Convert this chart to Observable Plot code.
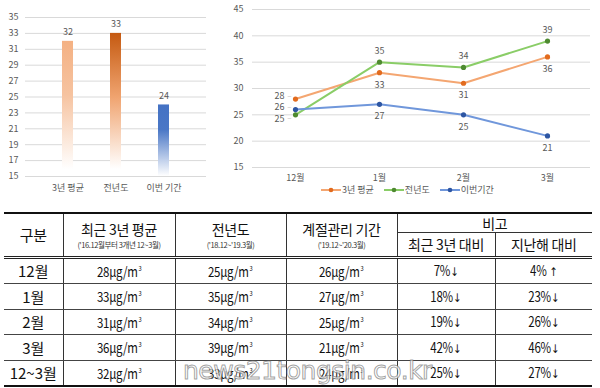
<!DOCTYPE html>
<html><head><meta charset="utf-8">
<script src="https://cdn.jsdelivr.net/npm/d3@7"></script>
<script src="https://cdn.jsdelivr.net/npm/@observablehq/plot@0.6"></script>
<style>
body{margin:0;background:#fff;font-family:"Noto Sans CJK KR","Noto Sans",sans-serif;}
#root{position:relative;width:600px;height:388px;overflow:hidden;background:#fff;}
#bar{position:absolute;left:0;top:0;}
#line{position:absolute;left:220px;top:0;}
#legend{position:absolute;left:321px;top:185px;display:flex;align-items:center;font-size:9px;line-height:10px;color:#595959;white-space:nowrap;}
#legend .it{display:flex;align-items:center;margin-right:10px;}
#legend svg{margin-right:1px;}
table{position:absolute;left:4px;top:212px;width:588px;border-collapse:collapse;table-layout:fixed;color:#111;}
th,td{padding:0;text-align:center;border-left:1px solid #333;border-right:1px solid #333;font-weight:normal;line-height:1;}
tr>*:first-child{border-left:none;}
tr>*:last-child{border-right:none;}
thead tr:first-child th{border-top:2px solid #111;}
thead tr.h1{height:19px;}
thead tr.h2{height:25px;}
thead th{font-size:14px;letter-spacing:-0.3px;}
thead tr.h1 th.sp{border-bottom:1px solid #333;}
thead{border-bottom:3px double #222;}
.sub{font-size:7.5px;letter-spacing:-0.4px;color:#333;margin-top:5px;}
tbody td{height:24.5px;border-bottom:1px solid #444;font-size:14px;}
tbody td.v{font-size:14px;}
.c{display:inline-block;transform:scaleX(0.82);letter-spacing:-0.3px;}
.c sup{font-size:7px;vertical-align:6px;line-height:0;margin-left:1px;}
.ar{font-family:"DejaVu Sans",sans-serif;font-size:12px;color:#111;}
tbody tr:last-child td{border-bottom:2px solid #111;}
#wm{position:absolute;left:183px;top:356px;font-family:"DejaVu Sans",sans-serif;font-size:25px;letter-spacing:-0.5px;color:rgba(255,255,255,0.75);-webkit-text-stroke:1px rgba(110,110,110,0.65);}
</style></head>
<body><div id="root">
<div id="bar"></div>
<div id="line"></div>
<div id="legend"></div>
<div id="tbl"></div>
<div id="wm">news21tongsin.co.kr</div>
</div>
<script>
// ---- data ----
const barCategories = ["3년 평균", "전년도", "이번 기간"];
const barValues = [32, 33, 24];
const barTicks = [15, 17, 19, 21, 23, 25, 27, 29, 31, 33, 35];

const months = ["12월", "1월", "2월", "3월"];
const seriesNames = ["3년 평균", "전년도", "이번기간"];
const avg3Values = [28, 33, 31, 36];
const prevYearValues = [25, 35, 34, 39];
const currentValues = [26, 27, 25, 21];
const lineTicks = [15, 20, 25, 30, 35, 40, 45];

const tableRowLabels = ["12월", "1월", "2월", "3월", "12~3월"];
const tableAvg3 = [28, 33, 31, 36, 32];
const tablePrev = [25, 35, 34, 39, 33];
const tableCurrent = [26, 27, 25, 21, 24];
const tableVsAvg3 = ["7%", "18%", "19%", "42%", "25%"];
const tableVsAvg3Dir = ["↓", "↓", "↓", "↓", "↓"];
const tableVsPrev = ["4%", "23%", "26%", "46%", "27%"];
const tableVsPrevDir = [" ↑", "↓", "↓", "↓", "↓"];

const FONT = '"Noto Sans CJK KR","Noto Sans",sans-serif';

// ---- bar chart ----
const barData = barCategories.map((c, i) => ({cat: c, v: barValues[i], g: `url(#bg${i})`}));
const barSvg = Plot.plot({
  width: 215, height: 200,
  marginLeft: 25, marginRight: 9, marginTop: 17, marginBottom: 24,
  style: {fontFamily: FONT, fontSize: "9px", color: "#595959", background: "transparent", overflow: "visible"},
  x: {domain: barCategories, padding: 0.77, label: null, tickSize: 0, tickPadding: 8},
  y: {domain: [15, 35], ticks: barTicks, label: null, tickSize: 0, tickPadding: 7},
  color: {type: "identity"},
  marks: [
    Plot.gridY(barTicks, {stroke: "#d9d9d9", strokeOpacity: 1}),
    Plot.barY(barData, {x: "cat", y1: 15, y2: "v", fill: "g"}),
    Plot.text(barData, {x: "cat", y: "v", text: d => String(d.v), dy: -9, fill: "#595959"})
  ]
});
const defs = d3.select(barSvg).insert("defs", ":first-child");
const grads = [
  [[0, "#F4B183"], [0.4, "#F6C3A0"], [0.95, "#ffffff"]],
  [[0, "#C55A11"], [0.45, "#F0A470"], [0.95, "#ffffff"]],
  [[0, "#4472C4"], [0.35, "#4A77C6"], [1, "#ffffff"]]
];
grads.forEach((stops, i) => {
  const g = defs.append("linearGradient").attr("id", `bg${i}`).attr("x1", 0).attr("y1", 0).attr("x2", 0).attr("y2", 1);
  stops.forEach(([o, c]) => g.append("stop").attr("offset", o).attr("stop-color", c));
});
document.getElementById("bar").appendChild(barSvg);

// ---- line chart ----
const seriesValues = [avg3Values, prevYearValues, currentValues];
const seriesStyle = {
  "3년 평균": {line: "#F4A671", dot: "#E26B1E", place: "below", firstDy: -3},
  "전년도": {line: "#8ACD67", dot: "#4E8A30", place: "above", firstDy: 4},
  "이번기간": {line: "#7097DB", dot: "#2D56A3", place: "below", firstDy: -2}
};
const lineData = [];
seriesNames.forEach((s, si) => months.forEach((m, mi) => lineData.push({s, m, mi, v: seriesValues[si][mi]})));

const lineMarks = [Plot.gridY(lineTicks, {stroke: "#d9d9d9", strokeOpacity: 1})];
seriesNames.forEach(s => {
  const st = seriesStyle[s];
  lineMarks.push(Plot.lineY(lineData.filter(r => r.s === s), {x: "m", y: "v", stroke: st.line, strokeWidth: 2}));
});
seriesNames.forEach(s => {
  const d = lineData.filter(r => r.s === s);
  const st = seriesStyle[s];
  const first = d.filter(r => r.mi === 0);
  lineMarks.push(Plot.dot(d, {x: "m", y: "v", r: 2.6, fill: st.dot, stroke: "none"}));
  lineMarks.push(Plot.text(first, {x: "m", y: "v", text: r => String(r.v), textAnchor: "end", dx: -11, dy: st.firstDy, fill: "#595959"}));
  lineMarks.push(Plot.text(first, {x: "m", y: "v", text: () => "–", textAnchor: "middle", dx: -6, dy: st.firstDy, fill: "#bfbfbf", fontSize: 8}));
  lineMarks.push(Plot.text(d.filter(r => r.mi > 0), {x: "m", y: "v", text: r => String(r.v), dy: st.place === "above" ? -11 : 12, fill: "#595959"}));
});

const lineSvg = Plot.plot({
  width: 380, height: 200,
  marginLeft: 32, marginRight: 10, marginTop: 9, marginBottom: 33,
  style: {fontFamily: FONT, fontSize: "9px", color: "#595959", background: "transparent", overflow: "visible"},
  x: {type: "point", domain: months, padding: 0.5, label: null, tickSize: 0, tickPadding: 7},
  y: {domain: [15, 45], ticks: lineTicks, label: null, tickSize: 0, tickPadding: 9},
  marks: lineMarks
});
document.getElementById("line").appendChild(lineSvg);

// legend
const legend = document.getElementById("legend");
seriesNames.forEach(s => {
  const st = seriesStyle[s];
  const it = document.createElement("div");
  it.className = "it";
  it.innerHTML = `<svg width="20" height="8"><line x1="0" x2="20" y1="4" y2="4" stroke="${st.line}" stroke-width="2"/><circle cx="10" cy="4" r="2.3" fill="${st.dot}"/></svg><span>${s}</span>`;
  legend.appendChild(it);
});

// ---- table ----
const cell = v => `<span class="c">${v}μg/m<sup>3</sup></span>`;
const pct = (v, a) => `<span class="c">${v}<span class="ar">${a.replace(" ", "&nbsp;")}</span></span>`;
let html = `<table><colgroup>
<col style="width:59px"><col style="width:112px"><col style="width:111px"><col style="width:111px"><col style="width:98px"><col style="width:97px">
</colgroup><thead>
<tr class="h1"><th rowspan="2" style="font-size:15px">구분</th>
<th rowspan="2">최근 3년 평균<div class="sub">('16.12월부터 3개년 12~3월)</div></th>
<th rowspan="2">전년도<div class="sub">('18.12~'19.3월)</div></th>
<th rowspan="2">계절관리 기간<div class="sub">('19.12~'20.3월)</div></th>
<th colspan="2" class="sp">비고</th></tr>
<tr class="h2"><th>최근 3년 대비</th><th>지난해 대비</th></tr>
</thead><tbody>`;
tableRowLabels.forEach((r, i) => {
  html += `<tr><td style="font-size:15px">${r}</td><td class="v">${cell(tableAvg3[i])}</td><td class="v">${cell(tablePrev[i])}</td><td class="v">${cell(tableCurrent[i])}</td><td class="v">${pct(tableVsAvg3[i], tableVsAvg3Dir[i])}</td><td class="v">${pct(tableVsPrev[i], tableVsPrevDir[i])}</td></tr>`;
});
html += `</tbody></table>`;
document.getElementById("tbl").innerHTML = html;
</script>
</body></html>
